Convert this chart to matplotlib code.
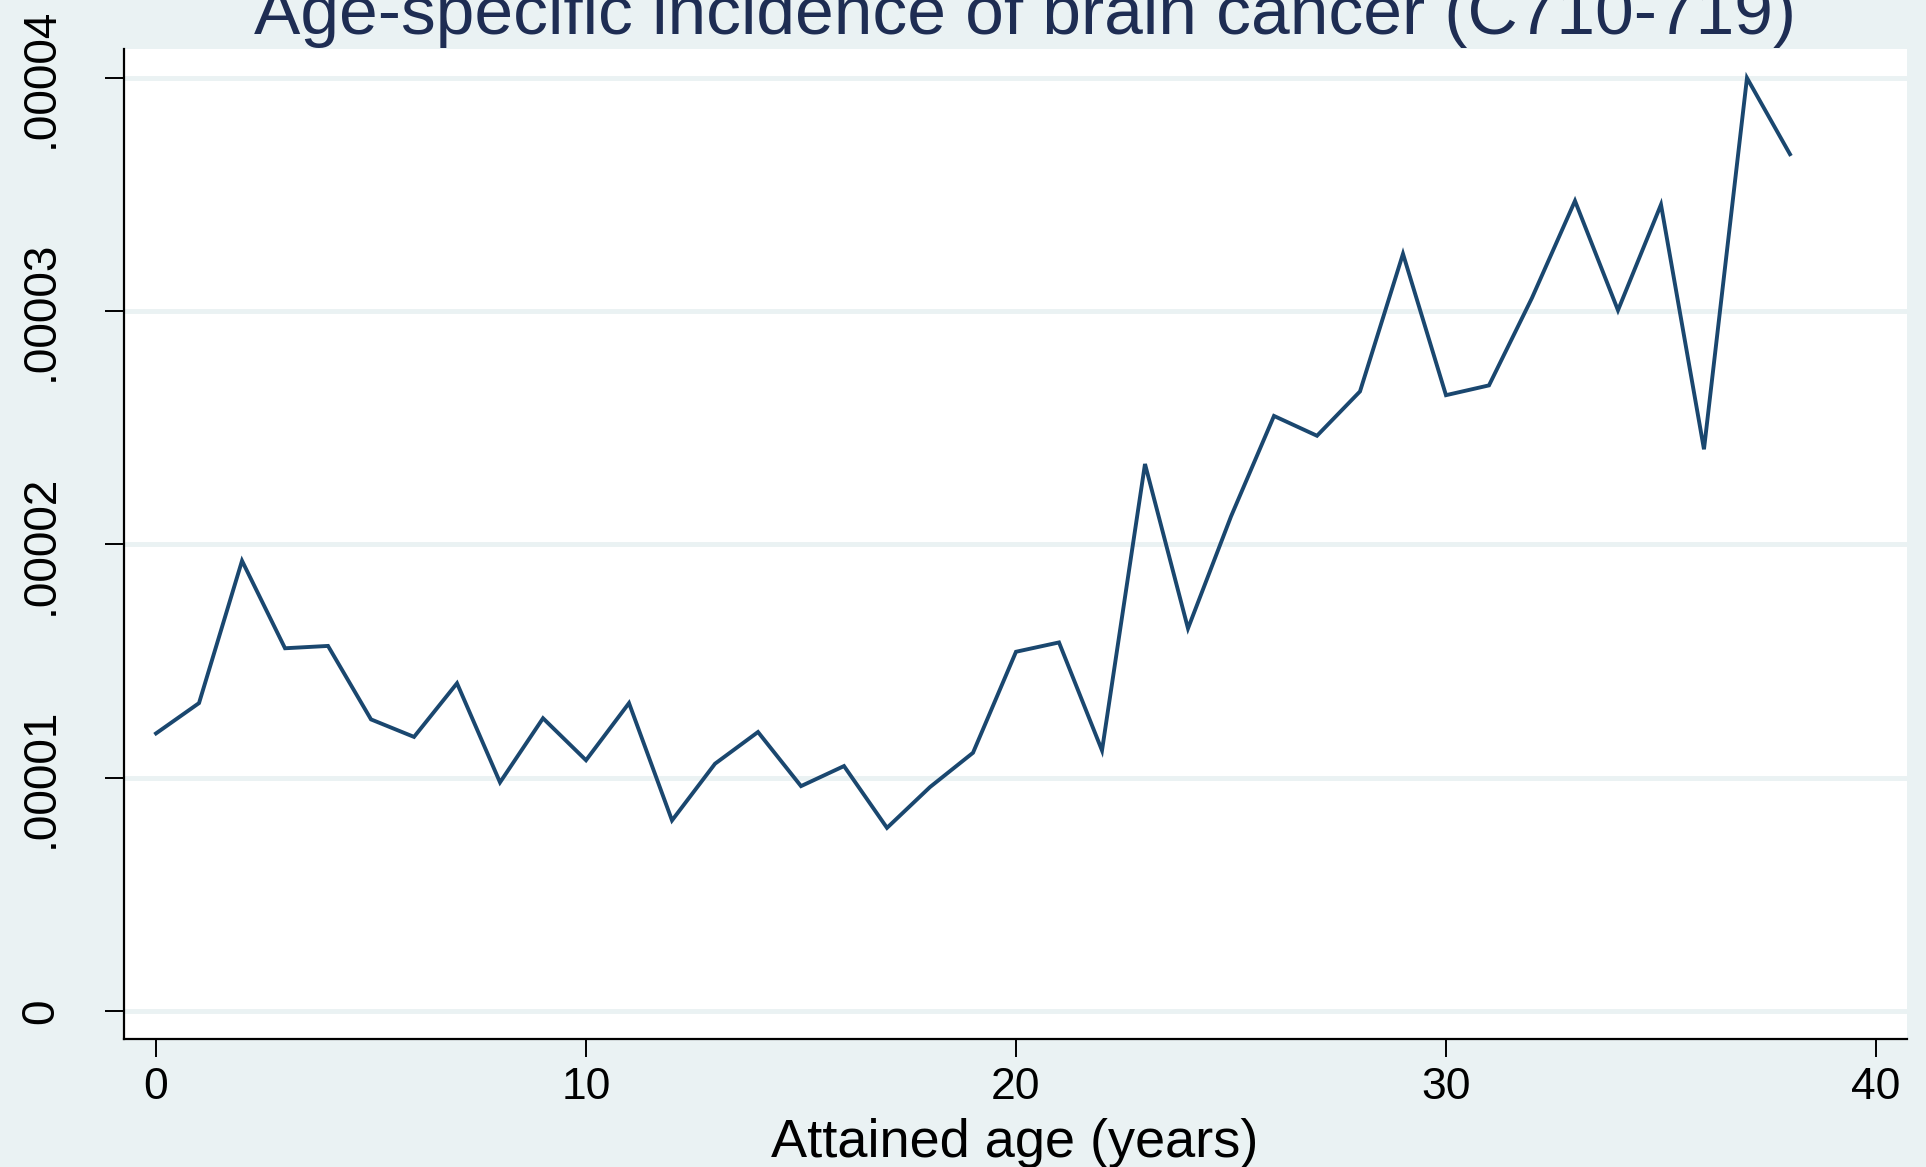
import numpy as np
import matplotlib
matplotlib.use("Agg")
import matplotlib.pyplot as plt
from matplotlib.ticker import FixedLocator, FixedFormatter

# Age-specific incidence
age = list(range(0, 39))
incidence = [
    1.19e-5, 1.32e-5, 1.93e-5, 1.555e-5, 1.565e-5, 1.25e-5, 1.175e-5, 1.405e-5,
    0.98e-5, 1.255e-5, 1.075e-5, 1.32e-5, 0.817e-5, 1.06e-5, 1.196e-5, 0.964e-5,
    1.05e-5, 0.785e-5, 0.96e-5, 1.107e-5, 1.54e-5, 1.58e-5, 1.117e-5, 2.345e-5,
    1.64e-5, 2.12e-5, 2.551e-5, 2.466e-5, 2.656e-5, 3.246e-5, 2.64e-5, 2.682e-5,
    3.057e-5, 3.473e-5, 3.004e-5, 3.457e-5, 2.408e-5, 4.0e-5, 3.673e-5,
]

x_ticks = [0, 10, 20, 30, 40]
y_ticks = [0, 1e-5, 2e-5, 3e-5, 4e-5]
y_tick_labels = ["0", ".00001", ".00002", ".00003", ".00004"]

title = "Age-specific incidence of brain cancer (C710-719)"
xlabel = "Attained age (years)"

# Stata s2color look
bg = "#EAF2F3"
line_col = "#1A476F"
title_col = "#1E2D53"

plt.rcParams["font.family"] = ["Liberation Sans", "DejaVu Sans"]

fig = plt.figure(figsize=(19.26, 11.67), dpi=100, facecolor=bg)
ax = fig.add_axes([0.0644, 0.1097, 0.9901 - 0.0644, 0.958 - 0.1097])
ax.set_facecolor("white")

ax.plot(age, incidence, color=line_col, lw=2.8, solid_joinstyle="miter", zorder=3)

ax.set_xlim(-0.744, 40.72)
ax.set_ylim(-0.12e-5, 4.124e-5)

ax.yaxis.set_major_locator(FixedLocator(y_ticks))
ax.yaxis.set_major_formatter(FixedFormatter(y_tick_labels))
ax.set_xticks(x_ticks)
ax.set_xticklabels([str(t) for t in x_ticks])

ax.grid(axis="y", color=bg, lw=3.5, zorder=1)
ax.grid(axis="x", visible=False)

for side in ["top", "right"]:
    ax.spines[side].set_visible(False)
for side in ["left", "bottom"]:
    ax.spines[side].set_color("black")
    ax.spines[side].set_linewidth(1.6)

ax.tick_params(axis="x", direction="out", length=13, width=1.4, pad=7.5,
               labelsize=32, colors="black")
ax.tick_params(axis="y", direction="out", length=14, width=1.4, pad=30,
               labelsize=33, colors="black")
for lab in ax.get_yticklabels():
    lab.set_rotation(90)
    lab.set_va("center")

fig.text(0.532, 1 - 34 / 1167, title, ha="center", va="baseline",
         fontsize=50, color=title_col)
fig.text(0.527, 1 - 1157 / 1167, xlabel, ha="center", va="baseline",
         fontsize=39, color="black")

fig.savefig("out.png", dpi=100, facecolor=bg)
